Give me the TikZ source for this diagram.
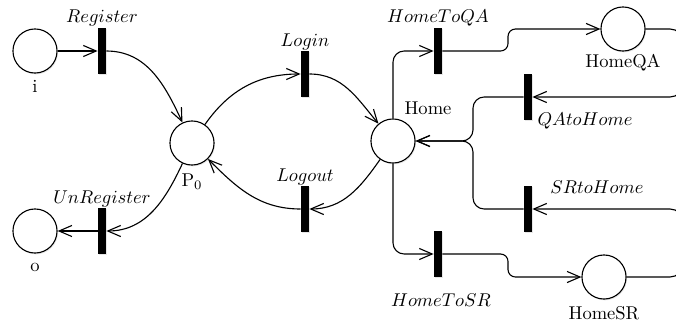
\documentclass[tikz,border=0pt]{standalone}
\usetikzlibrary{arrows.meta,shadows}
\begin{document}
\begin{tikzpicture}[x=0.54pt,y=0.54pt,
  place/.style={circle,draw,line width=0.6pt,minimum size=23.8pt,inner sep=0pt,fill=white,
    drop shadow={shadow xshift=0.5pt,shadow yshift=-0.7pt,opacity=0.2,fill=gray}},
  trans/.style={rectangle,fill=black,minimum width=4.3pt,minimum height=24.8pt,inner sep=0pt,
    drop shadow={shadow xshift=0.5pt,shadow yshift=-0.7pt,opacity=0.2,fill=gray}},
  arc/.style={line width=0.6pt,-{Straight Barb[length=7pt,width=6pt]}},
  lbl/.style={inner sep=1pt}]
\useasboundingbox (0,0) rectangle (676,322);
\clip (0,0) rectangle (676,322);
% places
\node[place] (pi) at (35,271) {};
\node[place] (P0) at (192,179) {};
\node[place] (po) at (35,91) {};
\node[place] (Home) at (393,181) {};
\node[place] (HomeQA) at (623,293) {};
\node[place] (HomeSR) at (604,45) {};
% transitions
\node[trans] (tR) at (102,271) {};
\node[trans] (tU) at (102,91) {};
\node[trans] (tLogin) at (305,248) {};
\node[trans] (tLogout) at (305,113) {};
\node[trans] (tHQA) at (438,271) {};
\node[trans] (tQAH) at (528,225) {};
\node[trans] (tSRH) at (528,113) {};
\node[trans] (tHSR) at (438,68) {};
% labels
\node[lbl] (li) at (35,236) {i};
\node[lbl] (lP0) at (192,140) {$\mathrm{P}_0$};
\node[lbl] (lo) at (35,55) {o};
\node[lbl] (lHome) at (428,214) {Home};
\node[lbl] (lHomeQA) at (623,259) {HomeQA};
\node[lbl] (lHomeSR) at (604,9) {HomeSR};
\node[lbl] (lR) at (102,304) {$Register$};
\node[lbl] (lU) at (102,123) {$UnRegister$};
\node[lbl] (lLogin) at (305,280) {$Login$};
\node[lbl] (lLogout) at (305,145) {$Logout$};
\node[lbl] (lHQA) at (438,304) {$HomeToQA$};
\node[lbl] (lQAH) at (585,201) {$QAtoHome$};
\node[lbl] (lSRH) at (597,135) {$SRtoHome$};
\node[lbl] (lHSR) at (441,22) {$HomeToSR$};
% arcs
\draw[arc] (pi) -- (tR);
\draw[arc] (tR) to[out=0,in=115] (P0);
\draw[arc] (P0) to[out=55,in=180] (tLogin);
\draw[arc] (tLogin) to[out=0,in=130] (Home);
\draw[arc] (Home) to[out=235,in=0] (tLogout);
\draw[arc] (tLogout) to[out=180,in=-45] (P0);
\draw[arc] (P0) to[out=245,in=0] (tU);
\draw[arc] (tU) -- (po);
\draw[arc,rounded corners=6pt] (Home) |- (tHQA);
\draw[arc,rounded corners=4pt] (tHQA) -- (508,271) -- (508,293) -- (HomeQA);
\draw[arc,rounded corners=7pt] (HomeQA) -- (683,293) -- (683,225) -- (tQAH);
\draw[arc,rounded corners=6pt] (tQAH) -- (473,225) -- (473,181) -- (Home);
\draw[arc,rounded corners=6pt] (tSRH) -- (473,113) -- (473,181) -- (Home);
\draw[arc,rounded corners=6pt] (Home) |- (tHSR);
\draw[arc,rounded corners=4pt] (tHSR) -- (508,68) -- (508,45) -- (HomeSR);
\draw[arc,rounded corners=7pt] (HomeSR) -- (683,45) -- (683,113) -- (tSRH);
\end{tikzpicture}
\end{document}
